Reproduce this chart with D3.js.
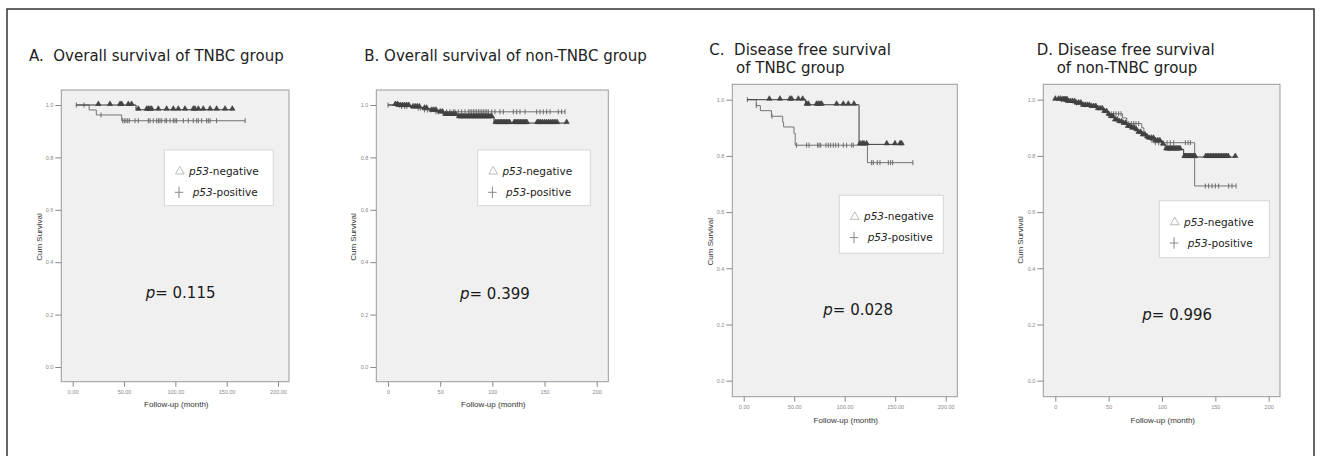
<!DOCTYPE html>
<html>
<head>
<meta charset="utf-8">
<script src="https://cdn.jsdelivr.net/npm/d3@7"></script>
<style>
  body { margin: 0; background: #fff; }
  svg { display: block; }
  text { white-space: pre; }
</style>
</head>
<body>
<svg id="chart" width="1322" height="456"></svg>
<script>
// axis ticks
var xTickValues = [0, 50, 100, 150, 200];
var xLabelsDec = ["0.00", "50.00", "100.00", "150.00", "200.00"];
var xLabelsInt = ["0", "50", "100", "150", "200"];
var yTickValues = [0, 0.2, 0.4, 0.6, 0.8, 1.0];

// A. overall survival, TNBC  ([month, cum survival] from that month on)
var negStepsA = [[3.5, 1.0], [61.7, 0.982]];
var negEndA = 155.5;
var negCensorA = [25, 36.3, 46.1, 47.7, 54.2, 57.4, 63.9, 72.1, 73.7, 75.3, 76.9, 83.4, 91.5, 98, 102.9,
  109.4, 117.5, 119.1, 122.4, 127.2, 133.8, 140.2, 148.4, 155.5];
var posStepsA = [[3.5, 1.0], [16, 0.981], [23, 0.962], [47.7, 0.94]];
var posEndA = 168;
var posCensorA = [3.5, 11, 27.6, 48.7, 50.3, 51.9, 53.6, 55.2, 60.7, 63.9, 73.7, 75.3, 78.5, 81.8, 83.4, 85,
  86.7, 89.9, 91.5, 94.8, 98, 99.7, 101.3, 107.8, 112.6, 117.5, 120.8, 122.4, 125.6, 130.5, 132.1, 133.8, 140.2, 168];

// B. overall survival, non-TNBC
var negStepsB = [[0, 1.0], [9.9, 0.996], [22.7, 0.991], [33.8, 0.986], [40.2, 0.978], [48.2, 0.971],
  [53, 0.962], [67.4, 0.953], [101.6, 0.931]];
var negEndB = 171.2;
var negCensorB = [7, 9, 10, 12, 14, 16, 18, 20, 24, 26, 28, 30, 35, 37, 42, 44, 46, 50, 52, 55, 57, 59, 61, 63, 65,
  68, 69.5, 71, 72.5, 74, 75.5, 77, 78.5, 80, 81.5, 83, 84.5, 86, 87.5, 89, 90.5, 92, 93.5, 95, 96.5, 98, 99.5,
  103, 104.5, 106, 107.5, 109, 110.5, 112, 113.5, 115, 116.5, 121, 122.5, 124, 125.5, 127, 128.5, 130, 131.5, 133,
  143, 144.5, 146, 148, 150, 152, 154, 156, 158, 160, 162, 171.2];
var posStepsB = [[0, 1.0], [12, 0.994], [22, 0.988], [33, 0.981], [44, 0.974]];
var posEndB = 170;
var posCensorB = [0, 11, 13, 16, 18, 29, 31, 35, 38, 41, 46, 48.2, 53, 56.2, 59.4, 62.6, 64.2, 67.4, 70.6, 73.8,
  77, 78.6, 80.2, 81.8, 83.4, 85, 86.6, 88.2, 89.8, 91.4, 93, 94.6, 96.2, 99.4, 102.5, 107.3, 110.5, 120.1, 123.3,
  126.5, 131.3, 142.5, 145.7, 148.9, 152.1, 155.3, 163.2, 166.4, 169.6];

// C. disease free survival, TNBC
var negStepsC = [[3.6, 1.0], [61.4, 0.982], [114.2, 0.841]];
var negEndC = 156.4;
var negCensorC = [25.4, 35.9, 45.8, 47.5, 54.1, 58.4, 62.3, 64, 72.2, 73.9, 75.5, 77.2, 92, 98.6, 103.6, 109.2,
  115.1, 117.4, 119.1, 121.7, 141.6, 149.8, 154.8, 156.4];
var posStepsC = [[3.6, 1.0], [12.5, 0.979], [16.5, 0.961], [27.5, 0.941], [38.6, 0.92], [39.5, 0.903],
  [49.8, 0.88], [51, 0.838], [122.5, 0.776]];
var posEndC = 167.5;
var posCensorC = [3.6, 12.5, 28, 52.4, 62.3, 64.7, 73.2, 74.6, 76.2, 81.5, 83.8, 86.1, 88.7, 91.1, 93.7, 98.6,
  101.9, 106.9, 108.5, 126.7, 128.3, 132.3, 134.9, 143.2, 145.5, 147.5, 167.5];

// D. disease free survival, non-TNBC
var negStepsD = [[0, 1.0], [6, 0.998], [12, 0.992], [19, 0.986], [26, 0.978], [33, 0.974], [39, 0.966],
  [45, 0.956], [49, 0.946], [52, 0.938], [56, 0.926], [60, 0.92], [63, 0.914], [68, 0.903], [72, 0.897],
  [75, 0.891], [78, 0.882], [81, 0.873], [85, 0.866], [88, 0.861], [94, 0.852], [100, 0.84], [103, 0.823],
  [120.3, 0.796]];
var negEndD = 168.7;
var negCensorD = [0, 3, 5, 7, 8, 9, 10, 11, 12, 14, 16, 18, 20, 22, 24, 26, 28, 30, 32, 34, 36, 38, 40, 42, 44,
  46, 48, 50, 52, 54, 56, 58, 60, 62, 64, 66, 68, 70, 72, 74, 76, 78, 80, 82, 84, 86, 88, 90, 92, 94, 96, 98,
  101, 104, 105, 106, 107, 108, 109, 110, 111, 112, 113, 114, 115, 116, 117, 121, 122, 123, 124, 125, 126, 127,
  128, 129, 130, 131, 141, 142.5, 144, 145.5, 147, 148.5, 150, 151.5, 153, 154.5, 156, 157.5, 159, 160.5, 162, 168.7];
var posStepsD = [[0, 1.0], [8, 0.994], [16, 0.988], [24, 0.982], [31, 0.976], [38, 0.97], [46, 0.958],
  [50, 0.95], [63, 0.935], [67, 0.915], [81, 0.9], [83, 0.88], [85, 0.862], [89, 0.855], [92, 0.847],
  [130.6, 0.693]];
var posEndD = 169.4;
var posCensorD = [6, 20, 28, 52.5, 54.7, 56.9, 59.4, 61.6, 68.8, 71.3, 73.4, 75.6, 78.1, 90.6, 93.8, 96.9, 100,
  104.7, 107.8, 111, 121.9, 124.4, 126.6, 140.6, 143.7, 146.9, 150, 153.1, 162.5, 165.6, 169.4];

var pValues = ["0.115", "0.399", "0.028", "0.996"];

// layout of the four panels
var panels = [
  { titles: [["A.  Overall survival of TNBC group", 29, 61]],
    left: 61.3, top: 90, right: 289, bottom: 381.7, x0: 72.7, x200: 278, y1: 105, y0: 367,
    xLabels: xLabelsDec, legend: [164.3, 150, 109, 55.7], px: 145.7, py: 298,
    ylx: 39, yly: 237, xlx: 176.3, xly: 406.7, p: pValues[0],
    neg: [negStepsA, negEndA, negCensorA], pos: [posStepsA, posEndA, posCensorA] },
  { titles: [["B. Overall survival of non-TNBC group", 364.3, 61]],
    left: 376.3, top: 90, right: 608.3, bottom: 381.7, x0: 388, x200: 596.7, y1: 105, y0: 367,
    xLabels: xLabelsInt, legend: [477.7, 150, 112.6, 55.7], px: 460, py: 298.5,
    ylx: 353.3, yly: 237, xlx: 493.3, xly: 407, p: pValues[1],
    neg: [negStepsB, negEndB, negCensorB], pos: [posStepsB, posEndB, posCensorB] },
  { titles: [["C.  Disease free survival", 709.3, 55], ["of TNBC group", 736, 72.5]],
    left: 732.3, top: 84.3, right: 957.3, bottom: 396.7, x0: 743.7, x200: 945.7, y1: 99.7, y0: 380.7,
    xLabels: xLabelsDec, legend: [839.3, 195.3, 104, 58], px: 823.3, py: 315,
    ylx: 710, yly: 241.7, xlx: 845.8, xly: 423, p: pValues[2],
    neg: [negStepsC, negEndC, negCensorC], pos: [posStepsC, posEndC, posCensorC] },
  { titles: [["D. Disease free survival", 1036.7, 55], ["of non-TNBC group", 1056.7, 72.5]],
    left: 1043.3, top: 84.3, right: 1280, bottom: 396.7, x0: 1055.3, x200: 1268.7, y1: 99.7, y0: 380.7,
    xLabels: xLabelsInt, legend: [1159.3, 200.7, 110, 57], px: 1142.3, py: 320,
    ylx: 1020, yly: 240, xlx: 1162.8, xly: 423, p: pValues[3],
    neg: [negStepsD, negEndD, negCensorD], pos: [posStepsD, posEndD, posCensorD] }
];

var svg = d3.select("#chart");

// outer frame
svg.append("rect")
  .attr("x", 7).attr("y", 9)
  .attr("width", 1307).attr("height", 470)
  .attr("fill", "none")
  .attr("stroke", "#333")
  .attr("stroke-width", 1.5);

var bisect = d3.bisector(function(d) { return d[0]; }).right;

function survivalAt(steps, t) {
  var i = Math.max(0, bisect(steps, t) - 1);
  return steps[i][1];
}

panels.forEach(function(p) {
  var g = svg.append("g");
  var x = d3.scaleLinear().domain([0, 200]).range([p.x0, p.x200]);
  var y = d3.scaleLinear().domain([0, 1]).range([p.y0, p.y1]);

  p.titles.forEach(function(t) {
    g.append("text")
      .attr("x", t[1]).attr("y", t[2])
      .style("font-family", "DejaVu Sans")
      .style("font-size", "15px")
      .style("fill", "#222")
      .text(t[0]);
  });

  g.append("rect")
    .attr("x", p.left).attr("y", p.top)
    .attr("width", p.right - p.left).attr("height", p.bottom - p.top)
    .attr("fill", "#f0f0f0")
    .attr("stroke", "#9a9a9a");

  var xAxis = d3.axisBottom(x)
    .tickValues(xTickValues)
    .tickFormat(function(d, i) { return p.xLabels[i]; })
    .tickSize(5).tickPadding(3);
  var gx = g.append("g")
    .attr("transform", "translate(0," + p.bottom + ")")
    .call(xAxis);

  var yAxis = d3.axisLeft(y)
    .tickValues(yTickValues)
    .tickFormat(d3.format(".1f"))
    .tickSize(6).tickPadding(2);
  var gy = g.append("g")
    .attr("transform", "translate(" + p.left + ",0)")
    .call(yAxis);

  [gx, gy].forEach(function(a) {
    a.select(".domain").remove();
    a.selectAll(".tick line").attr("stroke", "#888");
    a.selectAll(".tick text")
      .style("font-family", "Liberation Sans")
      .style("font-size", "5.5px")
      .style("fill", "#888");
  });

  g.append("text")
    .attr("transform", "translate(" + p.ylx + "," + p.yly + ") rotate(-90)")
    .attr("dy", "0.35em")
    .attr("text-anchor", "middle")
    .style("font-family", "Liberation Sans")
    .style("font-size", "8px")
    .style("fill", "#333")
    .text("Cum Survival");

  g.append("text")
    .attr("x", p.xlx).attr("y", p.xly)
    .attr("text-anchor", "middle")
    .style("font-family", "Liberation Sans")
    .style("font-size", "8px")
    .style("fill", "#333")
    .text("Follow-up (month)");

  var line = d3.line()
    .x(function(d) { return x(d[0]); })
    .y(function(d) { return y(d[1]); })
    .curve(d3.curveStepAfter);

  // p53-positive curve
  var ps = p.pos[0];
  g.append("path")
    .attr("d", line(ps.concat([[p.pos[1], ps[ps.length - 1][1]]])))
    .attr("fill", "none")
    .attr("stroke", "#747474")
    .attr("stroke-width", 1);
  g.selectAll(".plus")
    .data(p.pos[2])
    .enter().append("line")
    .attr("class", "plus")
    .attr("x1", function(d) { return x(d); })
    .attr("x2", function(d) { return x(d); })
    .attr("y1", function(d) { return y(survivalAt(ps, d)) - 2.5; })
    .attr("y2", function(d) { return y(survivalAt(ps, d)) + 2.5; })
    .attr("stroke", "#6a6a6a")
    .attr("stroke-width", 1);

  // p53-negative curve
  var ns = p.neg[0];
  g.append("path")
    .attr("d", line(ns.concat([[p.neg[1], ns[ns.length - 1][1]]])))
    .attr("fill", "none")
    .attr("stroke", "#3a3a3a")
    .attr("stroke-width", 1);
  var tri = d3.symbol().type(d3.symbolTriangle).size(12);
  g.selectAll(".tri")
    .data(p.neg[2])
    .enter().append("path")
    .attr("class", "tri")
    .attr("d", tri)
    .attr("transform", function(d) {
      return "translate(" + x(d) + "," + (y(survivalAt(ns, d)) - 1) + ")";
    })
    .attr("fill", "#444")
    .attr("stroke", "#3a3a3a")
    .attr("stroke-width", 0.6);

  // legend
  var L = p.legend;
  var lg = g.append("g").attr("transform", "translate(" + L[0] + "," + L[1] + ")");
  lg.append("rect")
    .attr("width", L[2]).attr("height", L[3])
    .attr("fill", "#fff")
    .attr("stroke", "#d6d6d6");
  lg.append("path")
    .attr("d", d3.symbol().type(d3.symbolTriangle).size(32)())
    .attr("transform", "translate(15.5,21.5)")
    .attr("fill", "none")
    .attr("stroke", "#aaa")
    .attr("stroke-width", 0.8);
  lg.append("line").attr("x1", 14.7).attr("x2", 14.7).attr("y1", 36.5).attr("y2", 48)
    .attr("stroke", "#888");
  lg.append("line").attr("x1", 10.5).attr("x2", 19).attr("y1", 42.3).attr("y2", 42.3)
    .attr("stroke", "#888");

  [["-negative", 24.7, 25.2], ["-positive", 28.4, 46.2]].forEach(function(e) {
    var t = lg.append("text")
      .attr("x", e[1]).attr("y", e[2])
      .style("font-family", "DejaVu Sans")
      .style("font-size", "10.5px")
      .style("fill", "#222");
    t.append("tspan").style("font-style", "italic").text("p53");
    t.append("tspan").text(e[0]);
  });

  var pt = g.append("text")
    .attr("x", p.px).attr("y", p.py)
    .style("font-family", "DejaVu Sans")
    .style("font-size", "15px")
    .style("fill", "#1a1a1a");
  pt.append("tspan").style("font-style", "italic").text("p");
  pt.append("tspan").text("= " + p.p);
});
</script>
</body>
</html>
